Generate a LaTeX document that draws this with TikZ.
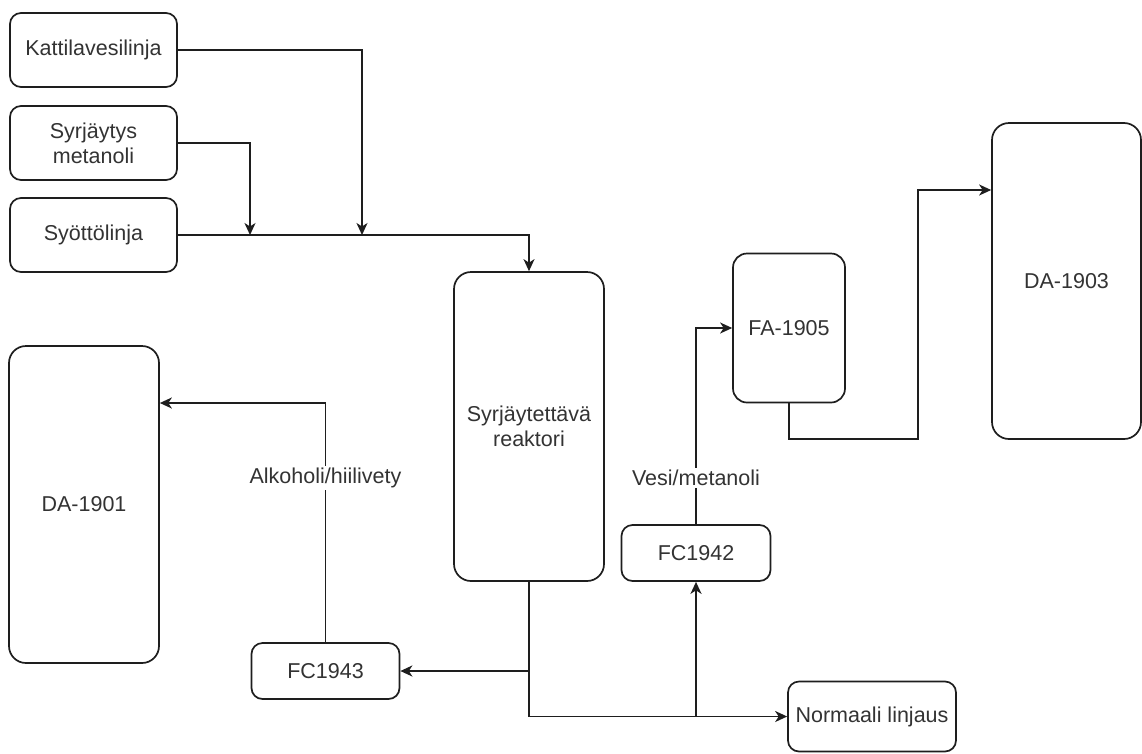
\documentclass[tikz,border=0pt]{standalone}
\usepackage{fontspec}
\setmainfont{Liberation Sans}
\usetikzlibrary{arrows.meta}
\definecolor{linec}{HTML}{1E1E1E}
\definecolor{textc}{HTML}{333333}
\begin{document}
\begin{tikzpicture}[x=1pt,y=-1pt,
  box/.style={draw=linec, line width=1.7pt, rounded corners=11pt, inner sep=0pt,
    align=center, text=textc, font=\fontsize{21.5}{25}\selectfont},
  bigbox/.style={box, rounded corners=17pt},
  flow/.style={draw=linec, line width=1.7pt, -{Stealth[length=12pt,width=11pt,inset=3.5pt]}},
  lbl/.style={fill=white, inner sep=2pt, text=textc, font=\fontsize{21.5}{25}\selectfont}]
\useasboundingbox (0,0) rectangle (1142,753);
\fill[white] (0,0) rectangle (1142,753);

\node[box, minimum width=167pt, minimum height=74pt] (kat) at (93.5,50) {Kattilavesilinja};
\node[box, minimum width=167pt, minimum height=74pt] (syr) at (93.5,143) {Syrjäytys\\metanoli};
\node[box, minimum width=167pt, minimum height=74pt] (syo) at (93.5,235) {Syöttölinja};
\node[bigbox, minimum width=150pt, minimum height=309pt] (reac) at (529,426.5) {Syrjäytettävä\\reaktori};
\node[bigbox, minimum width=150pt, minimum height=317pt] (da1) at (84,504.5) {DA-1901};
\node[box, rounded corners=14pt, minimum width=112pt, minimum height=149pt] (fa) at (789,328) {FA-1905};
\node[bigbox, minimum width=149pt, minimum height=316pt] (da3) at (1066.5,281) {DA-1903};
\node[box, minimum width=149pt, minimum height=56pt] (fc42) at (696,553) {FC1942};
\node[box, minimum width=148pt, minimum height=56pt] (fc43) at (325.5,671) {FC1943};
\node[box, minimum width=168pt, minimum height=70pt] (norm) at (872,716.5) {Normaali linjaus};

\coordinate (j1) at (362,235);
\coordinate (j2) at (250,235);
\coordinate (a1) at (325.5,403);
\coordinate (b1) at (918,439);
\coordinate (b2) at (918,190);

% inputs
\draw[flow] (kat.east) -| (j1);
\draw[flow] (syr.east) -| (j2);
\draw[flow] (syo.east) -| (reac.north);

% reactor outlet
\draw[flow] (reac.south) |- (norm.west);
\draw[flow] (reac.south |- fc43.east) -- (fc43.east);
\draw[flow] (fc42.south |- norm.west) -- (fc42.south);

% FC1942 to FA-1905
\draw[flow] (fc42.north) |- (fa.west);
\node[lbl] (lv) at (696,478) {Vesi/metanoli};

% FC1943 to DA-1901
\draw[flow] (fc43.north) -- (a1) -- (da1.east |- a1);
\node[lbl] (la) at (325.5,478) {Alkoholi/hiilivety};

% FA-1905 to DA-1903
\draw[flow] (fa.south) -- (fa.south |- b1) -- (b1) -- (b2) -- (da3.west |- b2);
\end{tikzpicture}
\end{document}
